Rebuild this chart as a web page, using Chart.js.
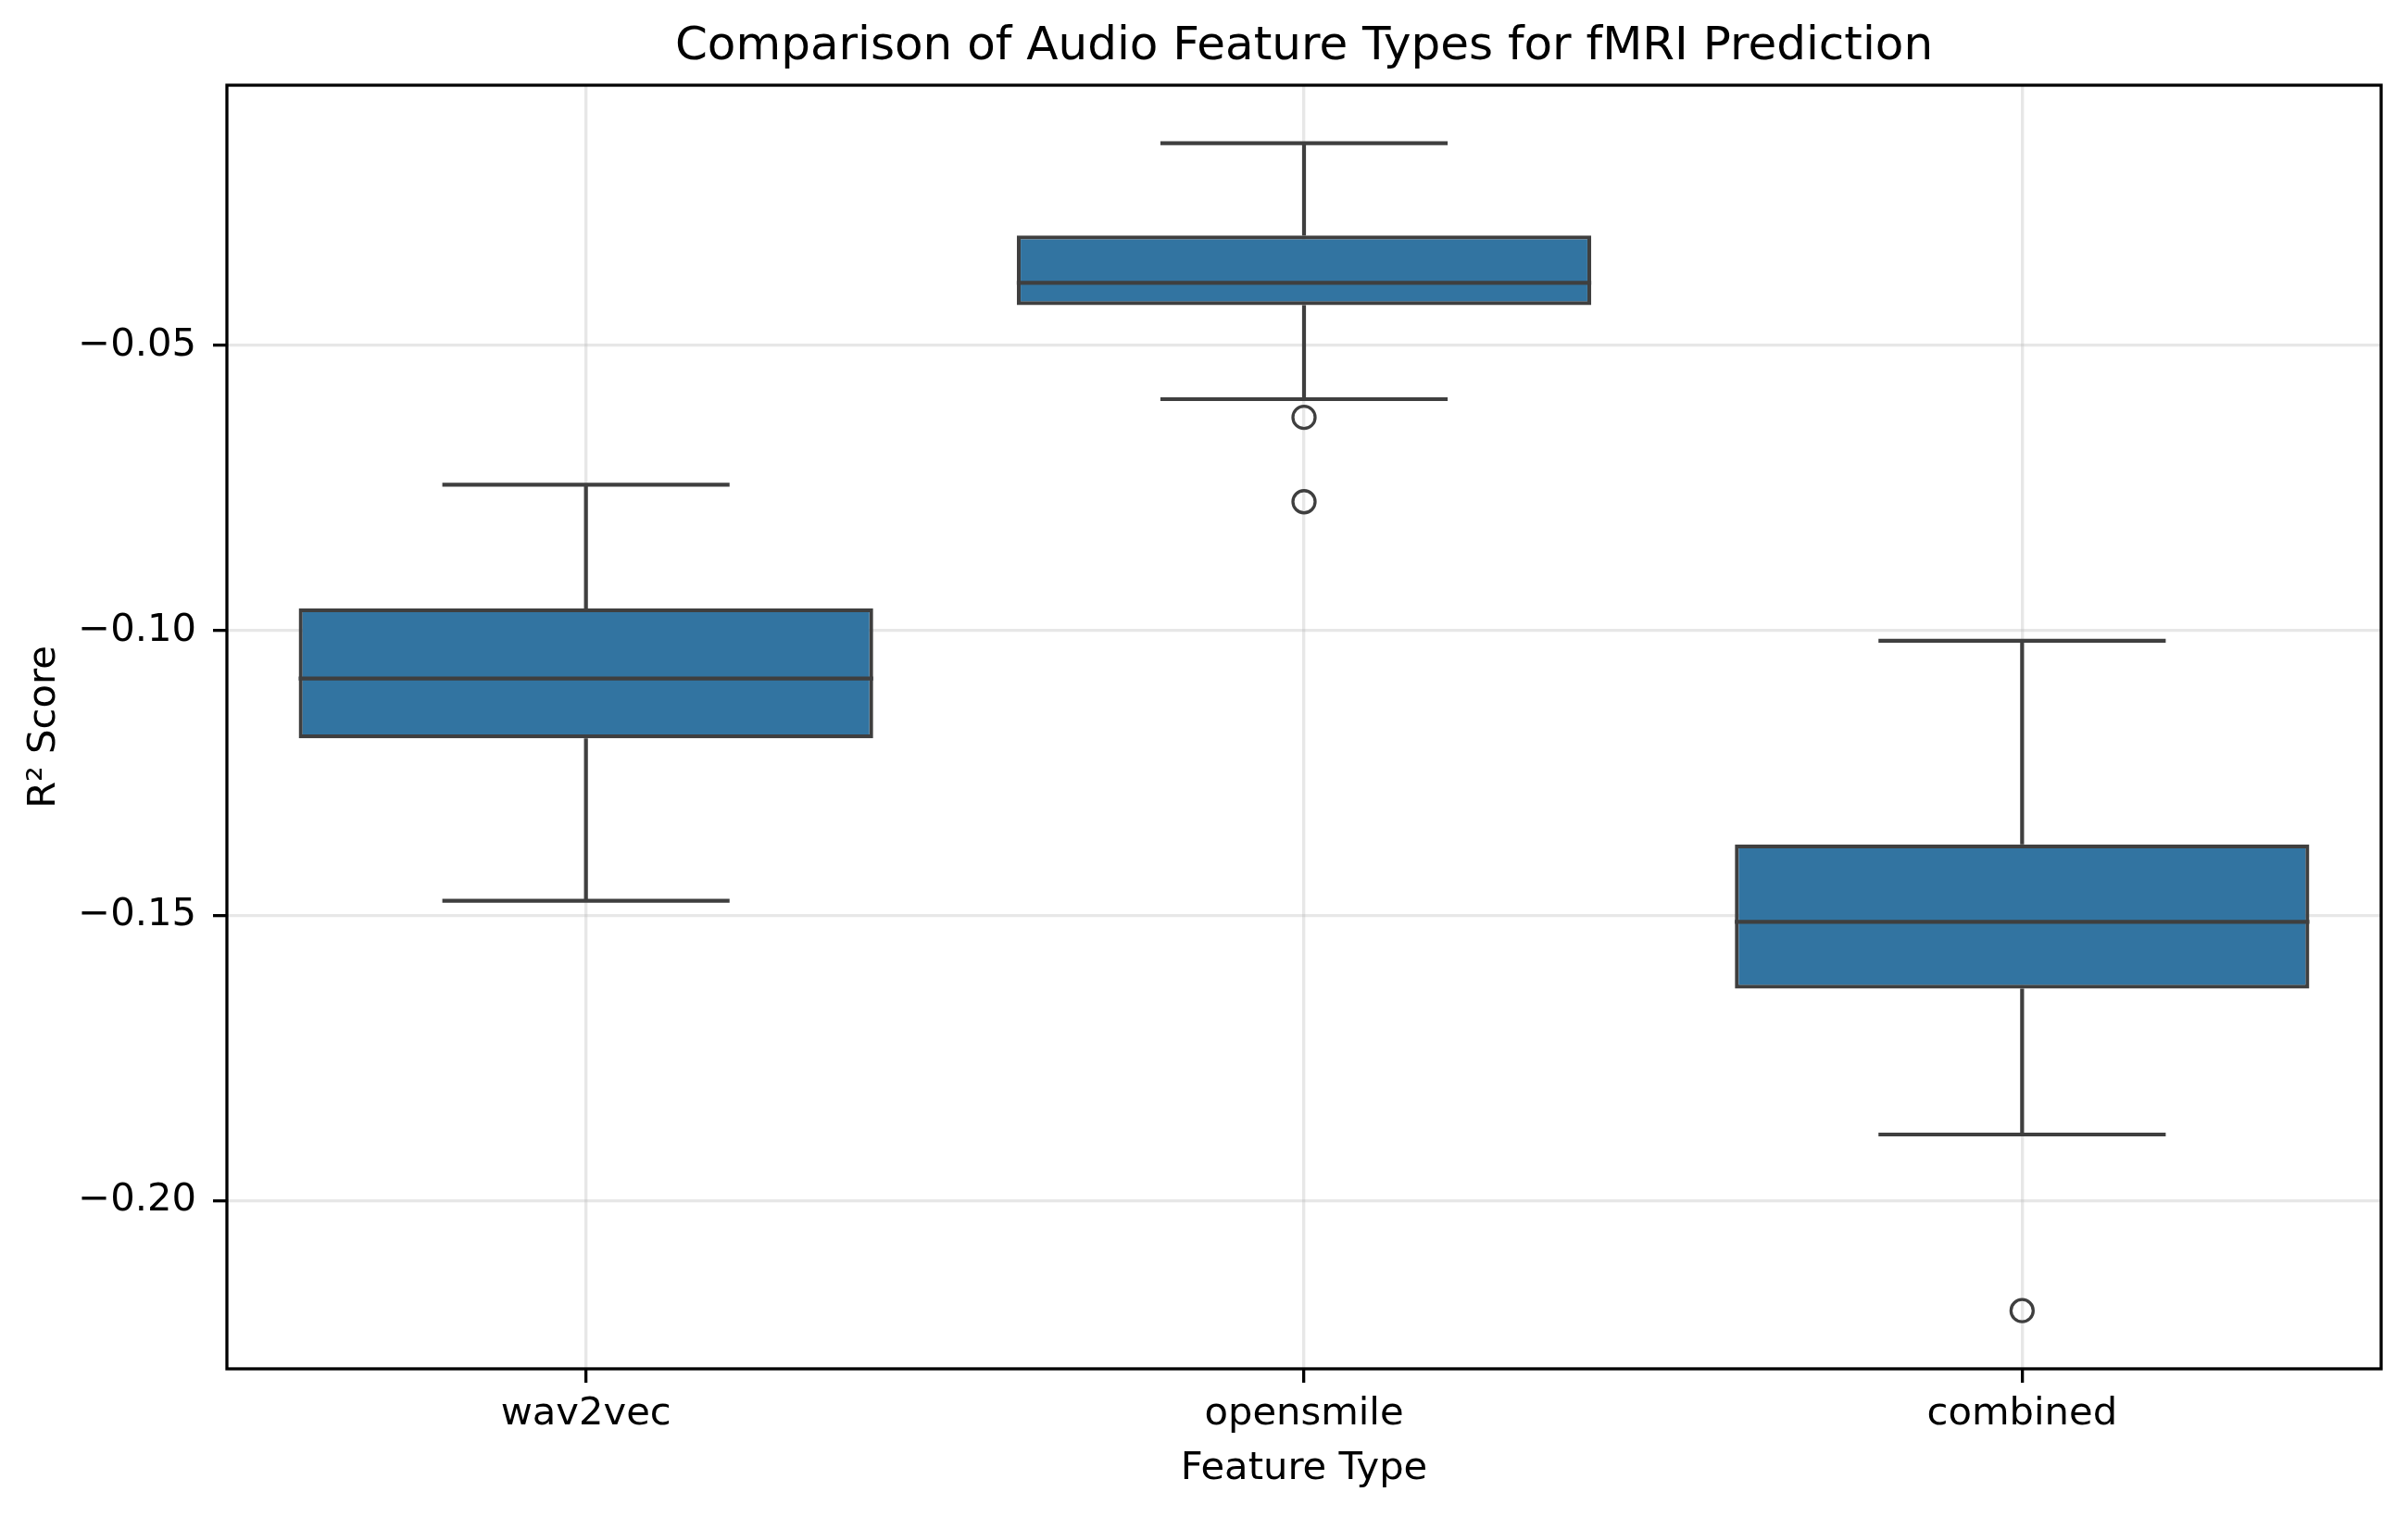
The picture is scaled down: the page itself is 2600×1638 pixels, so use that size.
<!DOCTYPE html>
<html>
<head>
<meta charset="utf-8">
<title>Audio feature comparison</title>
<script src="https://cdn.jsdelivr.net/npm/chart.js@4.4.1/dist/chart.umd.min.js"></script>
<style>
    html, body { margin: 0; padding: 0; background: #ffffff; }
    #chart { display: block; }
</style>
</head>
<body>
<canvas id="chart" width="2600" height="1638" style="width:2600px;height:1638px"></canvas>
<script>
"use strict";

// box statistics per feature type
const categories  = ['wav2vec', 'opensmile', 'combined'];
const whiskerHigh = [-0.0744, -0.0145, -0.1018];
const quartile3   = [-0.0961, -0.0307, -0.1375];
const medians     = [-0.1084, -0.0390, -0.1511];
const quartile1   = [-0.1189, -0.0429, -0.1628];
const whiskerLow  = [-0.1474, -0.0594, -0.1884];
const outliers    = [[], [-0.0626, -0.0774], [-0.2193]];

const yTicks = [-0.20, -0.15, -0.10, -0.05];
const xTicks = [0, 1, 2];

const EDGE = '#3f3f3f';
const BOX_FILL = '#3274a1';
const LINE_W = 4.2;
const GRID = 'rgba(176,176,176,0.3)';
const CAP_HALF = 0.2;
const BOX_HALF = 0.4;

const FONT = 'DejaVu Sans';
Chart.defaults.font.family = FONT;
Chart.defaults.color = '#000000';

const gap = {x: NaN, y: null};

function whiskerPoints() {
    const pts = [];
    categories.forEach((c, i) => {
        pts.push({x: i, y: quartile3[i]}, {x: i, y: whiskerHigh[i]}, gap);
        pts.push({x: i - CAP_HALF, y: whiskerHigh[i]}, {x: i + CAP_HALF, y: whiskerHigh[i]}, gap);
        pts.push({x: i, y: quartile1[i]}, {x: i, y: whiskerLow[i]}, gap);
        pts.push({x: i - CAP_HALF, y: whiskerLow[i]}, {x: i + CAP_HALF, y: whiskerLow[i]}, gap);
    });
    return pts;
}

function medianPoints() {
    const pts = [];
    categories.forEach((c, i) => {
        pts.push({x: i - BOX_HALF, y: medians[i]}, {x: i + BOX_HALF, y: medians[i]}, gap);
    });
    return pts;
}

function outlierPoints() {
    const pts = [];
    outliers.forEach((list, i) => list.forEach(v => pts.push({x: i, y: v})));
    return pts;
}

// matplotlib style frame round the plot area
const frame = {
    id: 'frame',
    afterDraw(chart) {
        const a = chart.chartArea;
        const ctx = chart.ctx;
        ctx.save();
        ctx.strokeStyle = '#000000';
        ctx.lineWidth = 3.3;
        ctx.strokeRect(a.left, a.top, a.right - a.left, a.bottom - a.top);
        ctx.restore();
    }
};

const fmt = v => (v < 0 ? '\u2212' : '') + Math.abs(v).toFixed(2);

new Chart(document.getElementById('chart'), {
    type: 'bar',
    data: {
        datasets: [{
            type: 'scatter',
            label: 'outliers',
            data: outlierPoints(),
            pointRadius: 12,
            pointBorderWidth: 3.3,
            pointBorderColor: EDGE,
            pointBackgroundColor: 'rgba(0,0,0,0)',
            order: 0
        }, {
            type: 'line',
            label: 'medians',
            data: medianPoints(),
            borderColor: EDGE,
            borderWidth: LINE_W,
            pointRadius: 0,
            spanGaps: false,
            fill: false,
            order: 1
        }, {
            type: 'line',
            label: 'whiskers',
            data: whiskerPoints(),
            borderColor: EDGE,
            borderWidth: LINE_W,
            pointRadius: 0,
            spanGaps: false,
            fill: false,
            order: 1
        }, {
            type: 'bar',
            label: 'boxes',
            data: categories.map((c, i) => ({x: i, y: [quartile1[i], quartile3[i]]})),
            backgroundColor: BOX_FILL,
            borderColor: EDGE,
            borderWidth: LINE_W,
            borderSkipped: false,
            barPercentage: 0.8,
            categoryPercentage: 1.0,
            order: 2
        }]
    },
    options: {
        responsive: false,
        animation: false,
        devicePixelRatio: 1,
        layout: {padding: {left: 0, right: 29, top: 0, bottom: 0}},
        plugins: {
            legend: {display: false},
            tooltip: {enabled: false},
            title: {
                display: true,
                fullSize: false,
                text: 'Comparison of Audio Feature Types for fMRI Prediction',
                color: '#000000',
                font: {family: FONT, size: 50, weight: 'normal'},
                padding: {top: 21, bottom: 11}
            }
        },
        scales: {
            x: {
                type: 'linear',
                min: -0.5,
                max: 2.5,
                offset: false,
                afterFit: s => { s.height = 160; },
                afterBuildTicks: s => { s.ticks = xTicks.map(v => ({value: v})); },
                border: {display: false},
                grid: {offset: false, color: GRID, lineWidth: 3.3, tickColor: '#000000', tickLength: 15, tickWidth: 3.3},
                ticks: {
                    color: '#000000',
                    font: {family: FONT, size: 41.7},
                    padding: 9,
                    maxRotation: 0,
                    callback: v => categories[v]
                },
                title: {
                    display: true,
                    text: 'Feature Type',
                    color: '#000000',
                    font: {family: FONT, size: 41.7},
                    padding: {top: 0, bottom: 27}
                }
            },
            y: {
                type: 'linear',
                min: -0.2295,
                max: -0.00433,
                afterFit: s => { s.width = 245; },
                afterBuildTicks: s => { s.ticks = yTicks.map(v => ({value: v})); },
                border: {display: false},
                grid: {color: GRID, lineWidth: 3.3, tickColor: '#000000', tickLength: 15, tickWidth: 3.3},
                ticks: {
                    color: '#000000',
                    font: {family: FONT, size: 41.7},
                    padding: 18,
                    callback: v => fmt(v)
                },
                title: {
                    display: true,
                    text: 'R\u00b2 Score',
                    color: '#000000',
                    font: {family: FONT, size: 41.7},
                    padding: {top: 23, bottom: 0}
                }
            }
        }
    },
    plugins: [frame]
});
</script>
</body>
</html>
